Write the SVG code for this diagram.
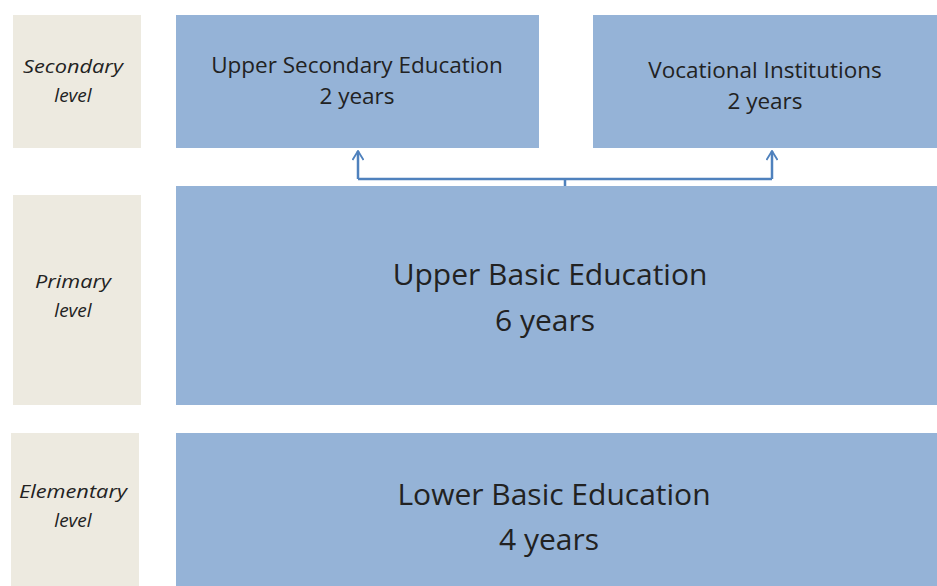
<svg xmlns="http://www.w3.org/2000/svg" width="937" height="586" viewBox="0 0 937 586">
  <defs>
    <style>
      .lvl { fill: #edeae0; }
      .blk { fill: #95b3d7; }
      .lvl-t { font-family: "Open Sans", "Liberation Sans", sans-serif; font-style: italic; font-size: 19px; fill: #222; text-anchor: middle; }
      .sm-t { font-family: "Open Sans", "Liberation Sans", sans-serif; font-size: 22.5px; fill: #222; text-anchor: middle; }
      .lg-t { font-family: "Open Sans", "Liberation Sans", sans-serif; font-size: 30px; fill: #222; text-anchor: middle; }
      .conn { stroke: #4f81bd; stroke-width: 2.5; fill: none; }
    </style>
    <marker id="arrowUp" viewBox="0 0 12 12" refX="11" refY="6" markerWidth="12" markerHeight="12" orient="auto" markerUnits="userSpaceOnUse">
      <path d="M2,0.5 L11,6 L2,11.5" fill="none" stroke="#4f81bd" stroke-width="1.8"/>
    </marker>
  </defs>

  <rect width="937" height="586" fill="#ffffff"/>

  <!-- level labels -->
  <g id="secondary-level">
    <rect class="lvl" x="13" y="15" width="128" height="133"/>
    <text class="lvl-t" x="73" y="73" textLength="100" lengthAdjust="spacingAndGlyphs">Secondary</text>
    <text class="lvl-t" x="73" y="102">level</text>
  </g>
  <g id="primary-level">
    <rect class="lvl" x="13" y="195" width="128" height="210"/>
    <text class="lvl-t" x="73" y="288" textLength="76" lengthAdjust="spacingAndGlyphs">Primary</text>
    <text class="lvl-t" x="73" y="317">level</text>
  </g>
  <g id="elementary-level">
    <rect class="lvl" x="11" y="433" width="128" height="153"/>
    <text class="lvl-t" x="73" y="498" textLength="108" lengthAdjust="spacingAndGlyphs">Elementary</text>
    <text class="lvl-t" x="73" y="527">level</text>
  </g>

  <!-- education blocks -->
  <g id="upper-secondary">
    <rect class="blk" x="176" y="15" width="363" height="133"/>
    <text class="sm-t" x="357" y="73">Upper Secondary Education</text>
    <text class="sm-t" x="357" y="104">2 years</text>
  </g>
  <g id="vocational">
    <rect class="blk" x="593" y="15" width="344" height="133"/>
    <text class="sm-t" x="765" y="78">Vocational Institutions</text>
    <text class="sm-t" x="765" y="109">2 years</text>
  </g>
  <g id="upper-basic">
    <rect class="blk" x="176" y="186" width="761" height="219"/>
    <text class="lg-t" x="550" y="285">Upper Basic Education</text>
    <text class="lg-t" x="545" y="331">6 years</text>
  </g>
  <g id="lower-basic">
    <rect class="blk" x="176" y="433" width="761" height="153"/>
    <text class="lg-t" x="554" y="505">Lower Basic Education</text>
    <text class="lg-t" x="549" y="550">4 years</text>
  </g>

  <!-- connectors -->
  <g id="connectors">
    <path class="conn" d="M565,186 V179 M358,179 H772"/>
    <path class="conn" d="M358,179 V151" marker-end="url(#arrowUp)"/>
    <path class="conn" d="M772,179 V151" marker-end="url(#arrowUp)"/>
  </g>
</svg>
